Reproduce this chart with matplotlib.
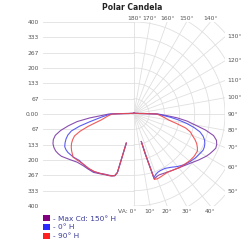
import numpy as np
import matplotlib
matplotlib.use('Agg')
from matplotlib import pyplot as plt
from matplotlib.patches import Patch

# vertical angles (deg from nadir)
angles = [15, 16, 17.5, 20, 22.5, 25, 30, 35, 40, 45, 50, 55, 60, 62.5, 65, 67.5,
          70, 72.5, 75, 77.5, 80, 82.5, 85, 87.5, 90,
          92.5, 95, 100, 110, 120, 135, 150, 165, 180]

# candela values, left half / right half of each plane pair
max_left = [131, 265, 281, 287, 290, 292, 300, 310, 313, 317, 326, 345, 368, 375, 380, 381,
            379, 372, 358, 330, 292, 252, 195, 140, 110,
            45, 25, 15, 8, 6, 5, 5, 5, 5]
max_right = [124, 183, 297, 290, 287, 288, 292, 298, 306, 316, 330, 348, 367, 375, 382, 389,
             387, 380, 362, 322, 272, 235, 190, 140, 105,
             45, 25, 15, 8, 6, 5, 5, 5, 5]
h0_left = [131, 265, 281, 285, 288, 290, 298, 306, 310, 312, 314, 326, 335, 337, 336, 328,
           318, 305, 285, 245, 200, 165, 140, 118, 100,
           45, 25, 15, 8, 6, 5, 5, 5, 5]
h0_right = [124, 183, 290, 280, 274, 272, 273, 283, 298, 312, 322, 331, 338, 342, 341, 337,
            330, 318, 300, 270, 235, 197, 160, 125, 100,
            45, 25, 15, 8, 6, 5, 5, 5, 5]
h90_left = [131, 265, 281, 286, 289, 291, 298, 305, 309, 311, 318, 327, 317, 311, 303, 292,
            278, 248, 210, 172, 145, 130, 118, 106, 95,
            45, 25, 15, 8, 6, 5, 5, 5, 5]
h90_right = [124, 183, 298, 300, 298, 296, 293, 298, 305, 311, 318, 322, 322, 314, 304, 290,
             273, 260, 235, 192, 157, 140, 125, 112, 100,
             45, 25, 15, 8, 6, 5, 5, 5, 5]

series = [
    ("- Max Cd: 150\u00b0 H", max_left, max_right, "#7d3aa6", "#800080"),
    ("- 0\u00b0 H", h0_left, h0_right, "#4a4af2", "#2a2aff"),
    ("- 90\u00b0 H", h90_left, h90_right, "#f04848", "#ff2020"),
]

ytick_vals = [400, 333, 267, 200, 133, 67, 0, -67, -133, -200, -267, -333, -400]
ytick_labels = ["400", "333", "267", "200", "133", "67", "0.00",
                "67", "133", "200", "267", "333", "400"]

grid_c = "#e0e0e0"
lab_c = "#555555"
R = 400.0

fig = plt.figure(figsize=(2.46, 2.49), dpi=100)
ax = fig.add_axes([43 / 246, 1 - 206 / 249, 182 / 246, 184 / 249])
ax.set_xlim(-R, R)
ax.set_ylim(-R, R)
for s in ax.spines.values():
    s.set_visible(False)
ax.set_xticks([])
ax.set_yticks(ytick_vals)
ax.set_yticklabels(ytick_labels, fontsize=4.3, color=lab_c)
ax.tick_params(axis='y', length=0, pad=3)

# left half: horizontal grid
for v in ytick_vals:
    ax.plot([-R, 0], [v, v], color=grid_c, lw=0.6, zorder=1)

# right half: polar grid
t = np.linspace(0, np.pi, 200)
for k in range(1, 9):
    rr = k * R / 6
    ax.plot(rr * np.sin(t), -rr * np.cos(t), color=grid_c, lw=0.6, zorder=1)
for a in range(0, 181, 10):
    th = np.radians(a)
    ax.plot([0, 700 * np.sin(th)], [0, -700 * np.cos(th)], color=grid_c, lw=0.6, zorder=1)

# angle labels
for a in [10, 20, 30, 40]:
    ax.text(R * np.tan(np.radians(a)), -R - 12, f"{a}\u00b0", ha='center', va='top',
            fontsize=4.3, color=lab_c, clip_on=False)
ax.text(12, -R - 12, "VA: 0\u00b0", ha='right', va='top', fontsize=4.3, color=lab_c, clip_on=False)
for a in [180, 170, 160, 150, 140]:
    ax.text(-R * np.tan(np.radians(a)), R + 6, f"{a}\u00b0", ha='center', va='bottom',
            fontsize=4.3, color=lab_c, clip_on=False)
for a in range(50, 131, 10):
    ax.text(R + 12, -R / np.tan(np.radians(a)), f"{a}\u00b0", ha='left', va='center',
            fontsize=4.3, color=lab_c, clip_on=False)

# curves
th = np.radians(angles)
for name, left, right, col, _ in series:
    left = np.array(left, float)
    right = np.array(right, float)
    xs = np.concatenate([-left * np.sin(th), (right * np.sin(th))[::-1]])
    ys = np.concatenate([-left * np.cos(th), (-right * np.cos(th))[::-1]])
    ax.plot(xs, ys, color=col, lw=0.8, alpha=0.9, zorder=3)

fig.text(132 / 246, 1 - 8 / 249, "Polar Candela", ha='center', va='center',
         fontsize=5.5, fontweight='bold', color='#222222')

handles = [Patch(facecolor=c, edgecolor='none') for *_, c in series]
leg = fig.legend(handles, [s[0] for s in series], loc='upper left',
                 bbox_to_anchor=(43 / 246, 1 - 215 / 249), frameon=False,
                 fontsize=5.3, handlelength=0.9, handleheight=0.9, handletextpad=0.5,
                 labelspacing=0.3, borderpad=0, borderaxespad=0)
for txt in leg.get_texts():
    txt.set_color('#3b3b9a')

fig.savefig("out.png", dpi=100)
